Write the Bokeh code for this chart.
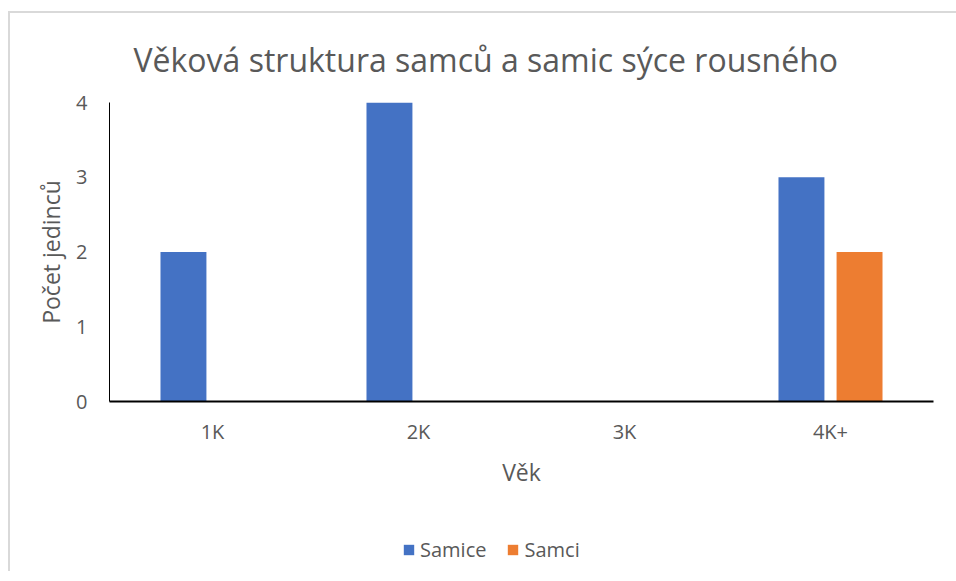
from bokeh.plotting import figure
from bokeh.layouts import column
from bokeh.models import FactorRange, Range1d, FixedTicker, Legend, LegendItem
from bokeh.transform import dodge
from bokeh.embed import file_html
from bokeh.resources import INLINE

categories = ["1K", "2K", "3K", "4K+"]
samice = [2, 4, 0, 3]
samci = [0, 0, 0, 2]
y_ticks = [0, 1, 2, 3, 4]
series_names = ["Samice", "Samci"]
series_colors = ["#4472C4", "#ED7D31"]

FONT = "Open Sans"
GRAY = "#595959"

p = figure(
    x_range=FactorRange(*categories),
    y_range=Range1d(0, 4),
    width=946, height=478,
    output_backend="svg", toolbar_location=None,
    min_border_left=99, min_border_right=23,
    min_border_top=89, min_border_bottom=90,
    title="Věková struktura samců a samic sýce rousného",
)

src = dict(cat=categories, samice=samice, samci=samci)
p.vbar(x=dodge("cat", -0.141, range=p.x_range), top="samice", width=0.223,
       source=src, fill_color=series_colors[0], line_color=None)
p.vbar(x=dodge("cat", 0.141, range=p.x_range), top="samci", width=0.223,
       source=src, fill_color=series_colors[1], line_color=None)

p.title.text_font = FONT
p.title.text_font_size = "32px"
p.title.text_font_style = "normal"
p.title.text_color = GRAY
p.title.align = "left"
p.title.offset = 24
p.title.standoff = 44

p.xgrid.grid_line_color = None
p.ygrid.grid_line_color = None
p.outline_line_color = None

p.yaxis.ticker = FixedTicker(ticks=y_ticks)
p.yaxis.axis_label = "Počet jedinců"
p.xaxis.axis_label = "Věk"
for ax in (p.xaxis[0], p.yaxis[0]):
    ax.major_tick_line_color = None
    ax.minor_tick_line_color = None
    ax.major_tick_out = 0
    ax.major_tick_in = 0
    ax.minor_tick_out = 0
    ax.major_label_text_font = FONT
    ax.major_label_text_font_size = "20px"
    ax.major_label_text_color = GRAY
    ax.axis_label_text_font = FONT
    ax.axis_label_text_font_size = "23px"
    ax.axis_label_text_font_style = "normal"
    ax.axis_label_text_color = GRAY
    ax.axis_line_color = "black"
p.xaxis.axis_line_width = 2
p.yaxis.axis_line_width = 1
p.xaxis.major_label_standoff = 16
p.xaxis.axis_label_standoff = 8
p.yaxis.major_label_standoff = 22
p.yaxis.axis_label_standoff = 6

# legend strip below the chart (its series are drawn out of view, only the key shows)
lg = figure(width=946, height=80, output_backend="svg", toolbar_location=None,
            x_axis_type=None, y_axis_type=None, min_border=0,
            x_range=FactorRange(*categories), y_range=Range1d(10, 11))
lg.outline_line_color = None
lg.xgrid.grid_line_color = None
lg.ygrid.grid_line_color = None
lr1 = lg.vbar(x="cat", top="samice", width=0.2, source=src,
              fill_color=series_colors[0], line_color=None)
lr2 = lg.vbar(x="cat", top="samci", width=0.2, source=src,
              fill_color=series_colors[1], line_color=None)
legend = Legend(
    items=[LegendItem(label=series_names[0], renderers=[lr1]),
           LegendItem(label=series_names[1], renderers=[lr2])],
    orientation="horizontal", location=(293, 8),
    label_text_font=FONT, label_text_font_size="20px", label_text_color=GRAY,
    glyph_width=13, glyph_height=13, label_standoff=5, spacing=20,
    padding=0, margin=0, border_line_color=None, background_fill_alpha=0,
)
lg.add_layout(legend, "center")

page = column(p, lg, spacing=0)
page.styles = {"border-top": "2px solid #d9d9d9", "border-left": "2px solid #d9d9d9",
               "margin-top": "11px", "margin-left": "8px"}

open("out.html", "w").write(file_html(page, INLINE))
